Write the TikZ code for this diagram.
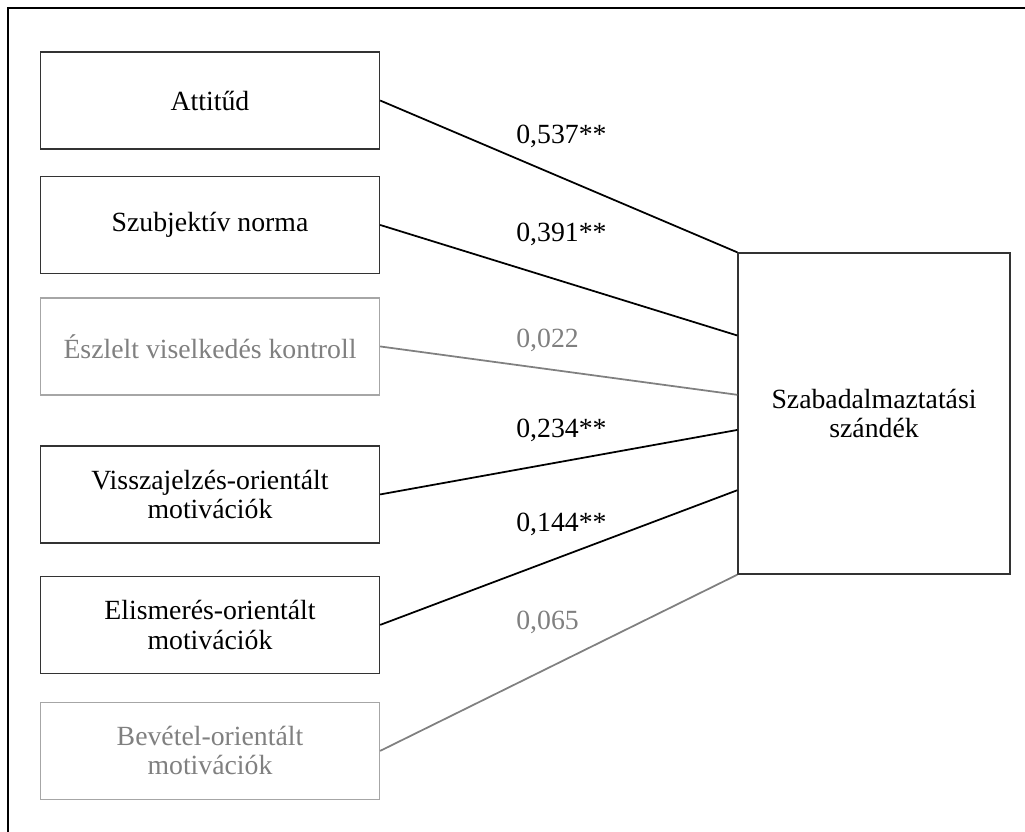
\documentclass[tikz,border=0pt]{standalone}
\usepackage{fontspec}
\setmainfont{Liberation Serif}
\usetikzlibrary{positioning,calc}

\begin{document}
\begin{tikzpicture}[x=0.02cm,y=-0.02cm,on grid,
    font=\fontsize{15.8}{16.6}\selectfont,
    factor/.style={draw=black!80,line width=0.8pt,minimum width=6.78cm,minimum height=1.94cm,align=center,text=black},
    weak/.style={draw=black!35,text=black!50},
    strong path/.style={line width=1pt,draw=black},
    weak path/.style={line width=1pt,draw=black!50},
    coef/.style={anchor=west,inner sep=0pt}]
  \useasboundingbox (0,0) rectangle (1025,832);
  \draw[line width=1.2pt] (1025,8) -- (8,8) -- (8,832);

  % predictors
  \node[factor]      (att)                        at (210,100.5) {Attitűd};
  \node[factor]      (szn)   [below=2.49cm of att]   {Szubjektív norma};
  \node[factor,weak] (eviz)  [below=2.43cm of szn]   {Észlelt viselkedés kontroll};
  \node[factor]      (vism)  [below=2.96cm of eviz]  {Visszajelzés-orientált\\motivációk};
  \node[factor]      (elism) [below=2.61cm of vism]  {Elismerés-orientált\\motivációk};
  \node[factor,weak] (bev)   [below=2.52cm of elism] {Bevétel-orientált\\motivációk};

  % outcome
  \node[factor,minimum width=5.44cm,minimum height=6.42cm] (szand) at (874,413.5)
        {Szabadalmaztatási\\szándék};

  \coordinate (in2) at ($(szand.north west)!0.258!(szand.south west)$);
  \coordinate (in3) at ($(szand.north west)!0.442!(szand.south west)$);
  \coordinate (in4) at ($(szand.north west)!0.551!(szand.south west)$);
  \coordinate (in5) at ($(szand.north west)!0.738!(szand.south west)$);

  \path[strong path] (att.east)   -- (szand.north west);
  \path[strong path] (szn.east)   -- (in2);
  \path[weak path]   (eviz.east)  -- (in3);
  \path[strong path] (vism.east)  -- (in4);
  \path[strong path] (elism.east) -- (in5);
  \path[weak path]   (bev.east)   -- (szand.south west);

  % path coefficients
  \node[coef]               (c1) at (516,136) {0,537**};
  \node[coef]               (c2) at (516,234) {0,391**};
  \node[coef,text=black!50] (c3) at (516,340) {0,022};
  \node[coef]               (c4) at (516,430) {0,234**};
  \node[coef]               (c5) at (516,524) {0,144**};
  \node[coef,text=black!50] (c6) at (516,622) {0,065};
\end{tikzpicture}
\end{document}
